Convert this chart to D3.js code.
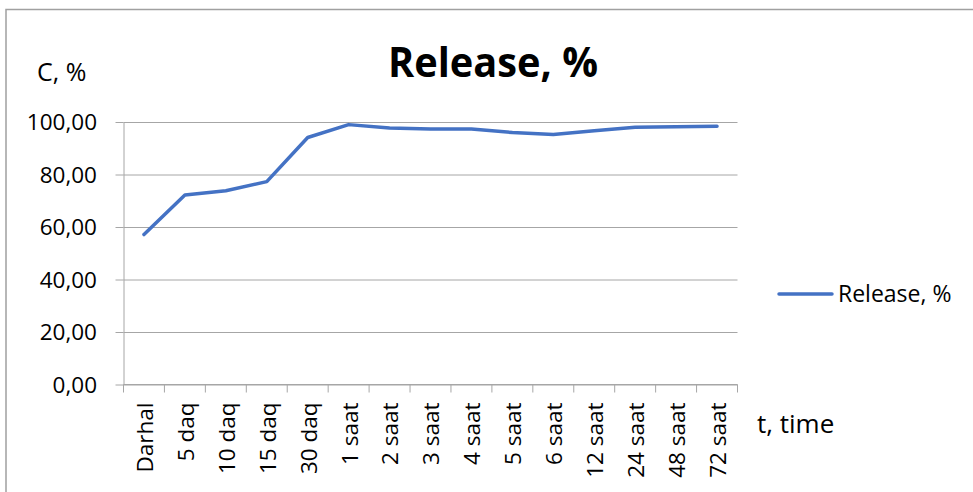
<!DOCTYPE html>
<html>
<head>
<meta charset="utf-8">
<script src="https://cdn.jsdelivr.net/npm/d3@7"></script>
<style>
  html, body { margin: 0; padding: 0; background: #fff; }
  svg { display: block; font-family: "Open Sans", "Noto Sans", sans-serif; }
</style>
</head>
<body>
<svg id="chart" width="973" height="492"></svg>
<script>
// Release profile over time
const categories = ["Darhal", "5 daq", "10 daq", "15 daq", "30 daq", "1 saat", "2 saat", "3 saat",
                    "4 saat", "5 saat", "6 saat", "12 saat", "24 saat", "48 saat", "72 saat"];
const releaseValues = [57.1, 72.2, 73.8, 77.3, 94.1, 99.0, 97.7, 97.3, 97.3, 96.0, 95.2, 96.7, 98.0, 98.2, 98.4];
const yTicks = [0, 20, 40, 60, 80, 100];
const seriesName = "Release, %";

const svg = d3.select("#chart");
const plot = { left: 123.5, right: 737.5, top: 122, bottom: 384.5 };
const lineColor = "#4472C4";
const gridColor = "#A6A6A6";
const fmt = v => d3.format(".2f")(v).replace(".", ",");

// Outer chart frame
svg.append("rect")
  .attr("x", 6).attr("y", 9.5)
  .attr("width", 1000).attr("height", 600)
  .attr("fill", "none").attr("stroke", "#A0A0A0").attr("stroke-width", 1.5);

const x = d3.scaleBand().domain(categories).range([plot.left, plot.right]).padding(0);
const y = d3.scaleLinear().domain([0, 100]).range([plot.bottom, plot.top]);

// Horizontal gridlines + y axis
const yAxis = d3.axisLeft(y).tickValues(yTicks).tickFormat(fmt)
  .tickSizeInner(-(plot.right - plot.left)).tickSizeOuter(0).tickPadding(18);
const gy = svg.append("g").attr("transform", `translate(${plot.left},0)`).call(yAxis);
gy.select(".domain").attr("stroke", gridColor);
gy.selectAll(".tick line").attr("stroke", gridColor).attr("stroke-width", 1);
gy.selectAll(".tick text").attr("font-size", 22.5).attr("fill", "#000")
  .attr("font-family", "Open Sans").attr("x", 97 - plot.left).attr("dy", "0.35em");
// Short outer ticks on the left
gy.selectAll(".tick").append("line")
  .attr("x1", -8).attr("x2", 0).attr("stroke", gridColor);

// X axis with ticks between categories
const gx = svg.append("g").attr("transform", `translate(0,${plot.bottom})`);
gx.append("line").attr("x1", plot.left).attr("x2", plot.right).attr("stroke", gridColor);
const boundaries = categories.map(c => x(c)).concat([x(categories[categories.length - 1]) + x.bandwidth()]);
gx.selectAll("line.tk").data(boundaries).join("line").attr("class", "tk")
  .attr("x1", d => d).attr("x2", d => d).attr("y1", 0).attr("y2", 8)
  .attr("stroke", gridColor);
gx.selectAll("text.cat").data(categories).join("text").attr("class", "cat")
  .attr("transform", d => `translate(${x(d) + x.bandwidth() / 2 + 1},18) rotate(-90)`)
  .attr("text-anchor", "end").attr("dy", "0.35em")
  .attr("font-size", 22.5).attr("fill", "#000")
  .text(d => d);

// Series line
const line = d3.line()
  .x((d, i) => x(categories[i]) + x.bandwidth() / 2)
  .y(d => y(d));
svg.append("path").datum(releaseValues)
  .attr("d", line).attr("fill", "none")
  .attr("stroke", lineColor).attr("stroke-width", 3.5)
  .attr("stroke-linejoin", "round").attr("stroke-linecap", "round");

// Title and axis captions
svg.append("text").attr("x", 493).attr("y", 77).attr("text-anchor", "middle")
  .attr("font-size", 42).attr("font-weight", "bold").attr("fill", "#000")
  .attr("textLength", 210).attr("lengthAdjust", "spacingAndGlyphs")
  .text("Release, %");
svg.append("text").attr("x", 37).attr("y", 81)
  .attr("font-size", 25).attr("fill", "#000").text("C, %");
svg.append("text").attr("x", 757).attr("y", 433)
  .attr("font-size", 26).attr("fill", "#000").text("t, time");

// Legend
const lg = svg.append("g");
lg.append("line").attr("x1", 779).attr("x2", 832).attr("y1", 294).attr("y2", 294)
  .attr("stroke", lineColor).attr("stroke-width", 3.5).attr("stroke-linecap", "round");
lg.append("text").attr("x", 838).attr("y", 302)
  .attr("font-size", 23).attr("fill", "#000").text(seriesName);
</script>
</body>
</html>
